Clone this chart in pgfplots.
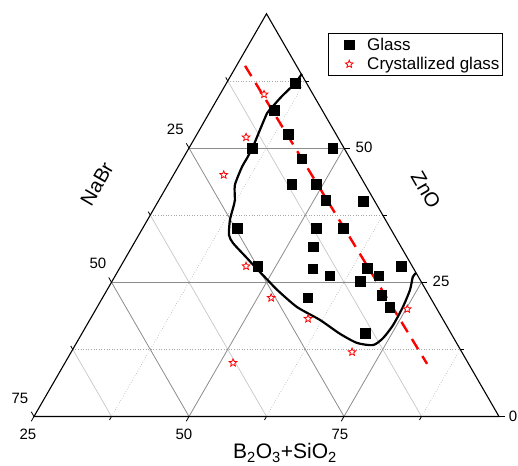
\documentclass[border=0pt]{standalone}
\usepackage{fontspec}
\setmainfont{Liberation Sans}
\usepackage{pgfplots}
\usepackage{pgfplotstable}
\pgfplotsset{compat=1.18}

\definecolor{majgrid}{gray}{0.55}
\definecolor{mingrid}{gray}{0.78}
\definecolor{dotgrid}{gray}{0.66}

% hollow five-pointed star marker
\pgfdeclareplotmark{hollowstar}{%
  \pgfpathmoveto{\pgfpointpolar{90}{\pgfplotmarksize}}%
  \pgfpathlineto{\pgfpointpolar{126}{0.45\pgfplotmarksize}}%
  \pgfpathlineto{\pgfpointpolar{162}{\pgfplotmarksize}}%
  \pgfpathlineto{\pgfpointpolar{198}{0.45\pgfplotmarksize}}%
  \pgfpathlineto{\pgfpointpolar{234}{\pgfplotmarksize}}%
  \pgfpathlineto{\pgfpointpolar{270}{0.45\pgfplotmarksize}}%
  \pgfpathlineto{\pgfpointpolar{306}{\pgfplotmarksize}}%
  \pgfpathlineto{\pgfpointpolar{342}{0.45\pgfplotmarksize}}%
  \pgfpathlineto{\pgfpointpolar{18}{\pgfplotmarksize}}%
  \pgfpathlineto{\pgfpointpolar{54}{0.45\pgfplotmarksize}}%
  \pgfpathclose
  \pgfusepathqfillstroke
}

% compositions in mol% : B2O3+SiO2, ZnO, NaBr
\pgfplotstableread{
B    ZnO  NaBr
36.1 62.1 1.8
35.2 57.1 7.7
39.7 52.6 7.7
35.2 50.0 14.8
48.2 50.0 1.8
44.2 48.0 7.8
44.9 43.3 11.8
48.9 43.3 7.8
51.9 40.3 7.8
58.0 40.1 1.9
40.2 35.1 24.7
53.0 35.1 11.9
57.3 35.1 7.6
54.2 31.6 14.2
47.1 28.0 24.9
56.2 27.5 16.3
64.9 27.6 7.5
70.2 28.0 1.8
59.6 26.2 14.2
65.0 25.2 9.8
67.5 26.2 6.3
58.1 22.1 19.8
69.8 22.6 7.6
72.2 20.4 7.4
70.7 15.5 13.8
}\glassdata

\pgfplotstableread{
B    ZnO  NaBr
32.1 60.0 7.9
33.2 52.0 14.8
33.1 45.0 21.9
45.2 28.0 26.8
52.2 22.1 25.7
60.1 18.2 21.7
70.3 12.0 17.7
75.2 20.0 4.8
52.1 10.0 37.9
}\crystaldata

% glass-forming region boundary
\pgfplotstableread{
B     ZnO
36.3  63.8
36.1  62.1
35.6  60.8
35.05 59.3
34.6  57.6
34.35 56.5
34.75 53.4
35.2  50.2
35.3  48.1
35.3  46.5
35.85 43.1
37.25 40.3
37.7  38.8
38.3  36.6
39.55 33.8
40.95 32.3
44.6  29.5
47.45 27.3
50.0  25.4
52.4  23.6
57.2  20.4
62.1  18.0
66.65 15.4
70.25 13.7
73.05 13.3
74.0  14.6
74.4  17.0
74.3  20.4
73.85 23.6
73.1  26.0
73.25 26.7
}\boundarydata

\pgfplotstableread{
B    ZnO
26.4 65.3
83.5 9.8
}\trenddata

\begin{document}
\begin{tikzpicture}
\begin{axis}[
  x=6.2pt, y=6.2pt,
  xmin=25, xmax=100, ymin=0, ymax=64.952,
  hide axis, clip=false,
  legend cell align=left,
  legend style={at={(0.632,0.952)}, anchor=north west, draw=black,
    line width=0.7pt,
    font=\fontsize{17}{20}\selectfont, inner xsep=1pt, inner ysep=2.5pt,
    row sep=1.5pt,
    nodes={inner ysep=2pt}},
  legend image code/.code={%
    \path[draw=none, fill=none] (-20pt,-5pt) rectangle (16pt,5pt);
    \draw[#1] plot coordinates {(0pt,0pt)};},
]
% minor grid
\draw[dotgrid, line width=0.6pt, dotted] (31.25,10.825) -- (93.75,10.825);
\draw[dotgrid, line width=0.6pt, dotted] (43.75,32.476) -- (81.25,32.476);
\draw[dotgrid, line width=0.6pt, dotted] (56.25,54.127) -- (68.75,54.127);
\draw[dotgrid, line width=0.6pt, dotted] (37.5,0) -- (68.75,54.127);
\draw[dotgrid, line width=0.6pt, dotted] (62.5,0) -- (81.25,32.476);
\draw[dotgrid, line width=0.6pt, dotted] (87.5,0) -- (93.75,10.825);
\draw[mingrid, line width=0.7pt] (56.25,54.127) -- (87.5,0);
\draw[mingrid, line width=0.7pt] (43.75,32.476) -- (62.5,0);
\draw[mingrid, line width=0.7pt] (31.25,10.825) -- (37.5,0);
% major grid
\draw[majgrid, line width=0.8pt] (37.5,21.651) -- (87.5,21.651) -- ++(0:5.5pt);
\draw[majgrid, line width=0.8pt] (50,43.301) -- (75,43.301) -- ++(0:5.5pt);
\draw[majgrid, line width=0.8pt] (50,43.301) -- (75,0);
\draw[majgrid, line width=0.8pt] (37.5,21.651) -- (50,0);
\draw[majgrid, line width=0.8pt] (50,0) -- (75,43.301);
\draw[majgrid, line width=0.8pt] (75,0) -- (87.5,21.651);
% frame
\draw[black, line width=1.1pt, line join=miter] (25,0) -- (100,0) -- (62.5,64.952) -- cycle;
% ticks: left side
\draw[black, line width=0.8pt] (56.25,54.127) -- ++(120:4pt);
\draw[black, line width=0.8pt] (50,43.301) -- ++(120:5.5pt);
\draw[black, line width=0.8pt] (43.75,32.476) -- ++(120:4pt);
\draw[black, line width=0.8pt] (37.5,21.651) -- ++(120:5.5pt);
\draw[black, line width=0.8pt] (31.25,10.825) -- ++(120:4pt);
\draw[black, line width=0.8pt] (25,0) -- ++(120:5.5pt);
% ticks: bottom side
\draw[black, line width=0.8pt] (25,0) -- ++(240:5.5pt);
\draw[black, line width=0.8pt] (37.5,0) -- ++(240:4pt);
\draw[black, line width=0.8pt] (50,0) -- ++(240:5.5pt);
\draw[black, line width=0.8pt] (62.5,0) -- ++(240:4pt);
\draw[black, line width=0.8pt] (75,0) -- ++(240:5.5pt);
\draw[black, line width=0.8pt] (87.5,0) -- ++(240:4pt);
% ticks: right side
\draw[black, line width=0.8pt] (100,0) -- ++(0:5.5pt);
\draw[black, line width=0.8pt] (93.75,10.825) -- ++(0:4pt);
\draw[black, line width=0.8pt] (87.5,21.651) -- ++(0:5.5pt);
\draw[black, line width=0.8pt] (81.25,32.476) -- ++(0:4pt);
\draw[black, line width=0.8pt] (75,43.301) -- ++(0:5.5pt);
\draw[black, line width=0.8pt] (68.75,54.127) -- ++(0:4pt);
% tick labels
\begin{scope}[every node/.style={font=\fontsize{15}{18}\selectfont, inner sep=0pt, anchor=center}]
\node at (47.79,46.29) {25};
\node at (35.32,24.68) {50};
\node at (22.74,2.98) {75};
\node at (24.03,-2.82) {25};
\node at (49.19,-2.82) {50};
\node at (74.35,-2.82) {75};
\node at (102.26,0.05) {0};
\node at (90.65,21.74) {25};
\node at (78.23,43.47) {50};
\end{scope}
% axis titles
\node[font=\fontsize{21}{25}\selectfont, anchor=base] at (65.48,-6.85) {B\textsubscript{2}O\textsubscript{3}+SiO\textsubscript{2}};
\node[font=\fontsize{20}{24}\selectfont, rotate=60, inner sep=0pt] at (35.16,37.5) {NaBr};
\node[font=\fontsize{20}{24}\selectfont, rotate=-60, inner sep=0pt] at (88.2,36.53) {ZnO};

\addplot[only marks, mark=square*, mark size=4.8pt, mark options={black, line width=0.4pt}]
  table[x expr=\thisrow{B}+0.5*\thisrow{ZnO}, y expr=0.8660254*\thisrow{ZnO}] {\glassdata};
\addlegendentry{Glass}
\addplot[only marks, mark=hollowstar, mark size=4pt, mark options={draw=red, fill=white, line width=0.8pt}]
  table[x expr=\thisrow{B}+0.5*\thisrow{ZnO}, y expr=0.8660254*\thisrow{ZnO}] {\crystaldata};
\addlegendentry{Crystallized glass}

\addplot[forget plot, black, line width=2.2pt, smooth, tension=0.4]
  table[x expr=\thisrow{B}+0.5*\thisrow{ZnO}, y expr=0.8660254*\thisrow{ZnO}] {\boundarydata};
\addplot[forget plot, red, line width=2.4pt, dash pattern=on 12pt off 8pt]
  table[x expr=\thisrow{B}+0.5*\thisrow{ZnO}, y expr=0.8660254*\thisrow{ZnO}] {\trenddata};

\coordinate (bbsw) at (axis cs:19.516,-7.984);
\coordinate (bbne) at (axis cs:103.065,67.177);
\end{axis}
\pgfresetboundingbox
\path[use as bounding box] (bbsw) rectangle (bbne);
\end{tikzpicture}
\end{document}
